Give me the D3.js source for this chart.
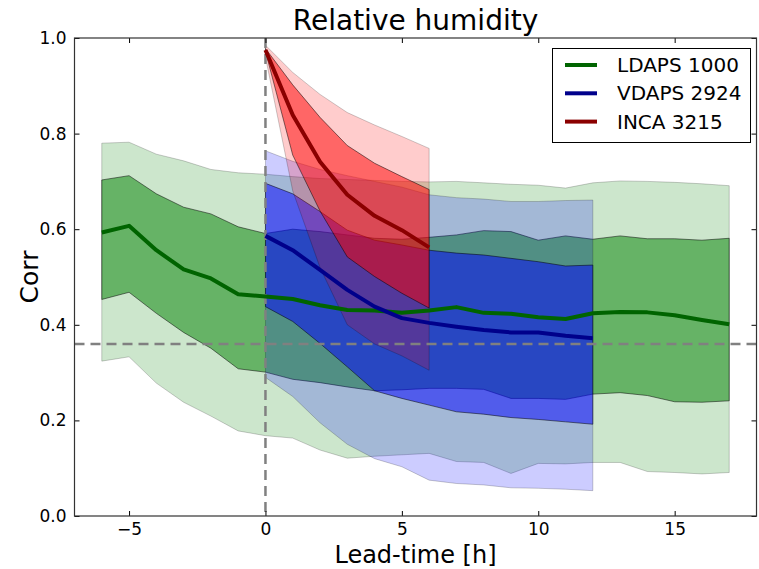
<!DOCTYPE html>
<html><head><meta charset="utf-8">
<script src="https://cdn.jsdelivr.net/npm/d3@7"></script>
<style>body{margin:0;background:#fff}svg{display:block;font-family:"DejaVu Sans",sans-serif}</style>
</head><body><svg id="c" width="759" height="569"></svg>
<script>
const ldapsX = d3.range(-6, 18);
const ldapsMean = [0.593,0.607,0.556,0.516,0.497,0.464,0.459,0.454,0.441,0.431,0.430,0.425,0.430,0.437,0.425,0.423,0.416,0.412,0.424,0.427,0.426,0.420,0.410,0.401];
const ldapsQ75 = [0.703,0.712,0.674,0.646,0.632,0.605,0.591,0.600,0.595,0.588,0.581,0.579,0.583,0.588,0.597,0.595,0.577,0.586,0.579,0.586,0.580,0.580,0.577,0.581];
const ldapsQ25 = [0.453,0.468,0.424,0.384,0.351,0.308,0.301,0.286,0.279,0.270,0.262,0.264,0.267,0.267,0.265,0.246,0.246,0.244,0.255,0.258,0.252,0.239,0.238,0.241];
const ldapsQ95 = [0.780,0.782,0.757,0.743,0.725,0.718,0.715,0.710,0.706,0.704,0.702,0.700,0.699,0.700,0.697,0.694,0.692,0.686,0.697,0.701,0.700,0.698,0.695,0.691];
const ldapsQ05 = [0.324,0.333,0.278,0.238,0.209,0.178,0.168,0.163,0.138,0.121,0.125,0.128,0.131,0.114,0.112,0.089,0.110,0.109,0.112,0.112,0.093,0.091,0.088,0.091];

const vdapsX = d3.range(0, 13);
const vdapsMean = [0.586,0.556,0.515,0.473,0.438,0.414,0.404,0.396,0.389,0.384,0.384,0.377,0.372];
const vdapsQ75 = [0.696,0.674,0.637,0.598,0.577,0.567,0.556,0.550,0.546,0.539,0.532,0.523,0.525];
const vdapsQ25 = [0.438,0.407,0.361,0.312,0.262,0.246,0.232,0.218,0.213,0.206,0.202,0.197,0.192];
const vdapsQ95 = [0.764,0.742,0.725,0.712,0.700,0.688,0.672,0.666,0.663,0.658,0.658,0.660,0.661];
const vdapsQ05 = [0.290,0.250,0.195,0.150,0.120,0.103,0.075,0.068,0.065,0.059,0.058,0.056,0.053];

const incaX = d3.range(0, 7);
const incaMean = [0.975,0.839,0.741,0.672,0.628,0.598,0.562];
const incaQ75 = [0.978,0.902,0.834,0.775,0.738,0.710,0.683];
const incaQ25 = [0.972,0.755,0.638,0.542,0.501,0.466,0.435];
const incaQ95 = [0.985,0.928,0.882,0.844,0.818,0.794,0.769];
const incaQ05 = [0.960,0.680,0.520,0.400,0.360,0.335,0.305];

const seriesNames = ["LDAPS 1000","VDAPS 2924","INCA 3215"];
const xTicks = [-5,0,5,10,15];
const yTicks = [0,0.2,0.4,0.6,0.8,1.0];
const refLineY = 0.36;
const refLineX = 0;

const W=759,H=569, L=74.5, R=756.5, T=38, B=516;
const svg=d3.select("#c");
const x=d3.scaleLinear().domain([-7,18]).range([L,R]);
const y=d3.scaleLinear().domain([0,1]).range([B,T]);

const models=[
 {name:seriesNames[0],xs:ldapsX,m:ldapsMean,q25:ldapsQ25,q75:ldapsQ75,q05:ldapsQ05,q95:ldapsQ95,fill:"#008000",line:"#006400"},
 {name:seriesNames[1],xs:vdapsX,m:vdapsMean,q25:vdapsQ25,q75:vdapsQ75,q05:vdapsQ05,q95:vdapsQ95,fill:"#0000ff",line:"#00008b"},
 {name:seriesNames[2],xs:incaX,m:incaMean,q25:incaQ25,q75:incaQ75,q05:incaQ05,q95:incaQ95,fill:"#ff0000",line:"#8b0000"}
];
const area=d3.area().x(d=>x(d[0])).y0(d=>y(d[1])).y1(d=>y(d[2]));
const line=d3.line().x(d=>x(d[0])).y(d=>y(d[1]));
const g=svg.append("g");
g.append("defs").append("clipPath").attr("id","clip").append("rect").attr("x",L).attr("y",T).attr("width",R-L).attr("height",B-T);
const pg=g.append("g").attr("clip-path","url(#clip)");
models.forEach(md=>{
  const outer=md.xs.map((v,i)=>[v,md.q05[i],md.q95[i]]);
  const inner=md.xs.map((v,i)=>[v,md.q25[i],md.q75[i]]);
  pg.append("path").attr("d",area(outer)+"Z").attr("fill",md.fill).attr("fill-opacity",0.2)
    .attr("stroke","#000").attr("stroke-opacity",0.2).attr("stroke-width",1);
  pg.append("path").attr("d",area(inner)+"Z").attr("fill",md.fill).attr("fill-opacity",0.5)
    .attr("stroke","#000").attr("stroke-opacity",0.5).attr("stroke-width",1);
});
pg.append("line").attr("x1",x(refLineX)).attr("x2",x(refLineX)).attr("y1",T).attr("y2",B)
  .attr("stroke","#808080").attr("stroke-width",2.5).attr("stroke-dasharray","10,6");
pg.append("line").attr("x1",L).attr("x2",R).attr("y1",y(refLineY)).attr("y2",y(refLineY))
  .attr("stroke","#808080").attr("stroke-width",2.5).attr("stroke-dasharray","10,6");
models.forEach(md=>{
  pg.append("path").attr("d",line(md.xs.map((v,i)=>[v,md.m[i]]))).attr("fill","none")
    .attr("stroke",md.line).attr("stroke-width",4).attr("stroke-linejoin","round");
});
// axes
const fs=17;
const xb=svg.append("g").attr("transform",`translate(0,${B})`).call(d3.axisBottom(x).tickValues(xTicks).tickSizeInner(-5).tickSizeOuter(0).tickPadding(7).tickFormat(d=>d<0?"\u2212"+Math.abs(d):d));
const xt=svg.append("g").attr("transform",`translate(0,${T})`).call(d3.axisTop(x).tickValues(xTicks).tickSizeInner(-5).tickSizeOuter(0).tickFormat(""));
const yl=svg.append("g").attr("transform",`translate(${L},0)`).call(d3.axisLeft(y).tickValues(yTicks).tickSizeInner(-5).tickSizeOuter(0).tickPadding(8).tickFormat(d3.format(".1f")));
const yr=svg.append("g").attr("transform",`translate(${R},0)`).call(d3.axisRight(y).tickValues(yTicks).tickSizeInner(-5).tickSizeOuter(0).tickFormat(""));
[xb,xt,yl,yr].forEach(a=>{a.select(".domain").remove();a.selectAll("line").attr("stroke","#000");a.selectAll("text").attr("font-size",fs).attr("font-family","DejaVu Sans").attr("fill","#000");});
svg.append("rect").attr("x",L).attr("y",T).attr("width",R-L).attr("height",B-T).attr("fill","none").attr("stroke","#333").attr("stroke-width",1.2);
svg.append("text").attr("x",(L+R)/2).attr("y",30).attr("text-anchor","middle").attr("font-size",28).text("Relative humidity");
svg.append("text").attr("x",(L+R)/2).attr("y",563).attr("text-anchor","middle").attr("font-size",24).text("Lead-time [h]");
svg.append("text").attr("transform",`translate(38,${(T+B)/2}) rotate(-90)`).attr("text-anchor","middle").attr("font-size",25).text("Corr");
// legend
const lg=svg.append("g");
lg.append("rect").attr("x",552.5).attr("y",48.5).attr("width",198).attr("height",94).attr("fill","#fff").attr("stroke","#000").attr("stroke-width",1);
models.forEach((md,i)=>{
  const yy=65+i*28.3;
  lg.append("line").attr("x1",565).attr("x2",597).attr("y1",yy).attr("y2",yy).attr("stroke",md.line).attr("stroke-width",4);
  lg.append("text").attr("x",617).attr("y",yy+7).attr("font-size",20).text(md.name);
});
</script></body></html>
